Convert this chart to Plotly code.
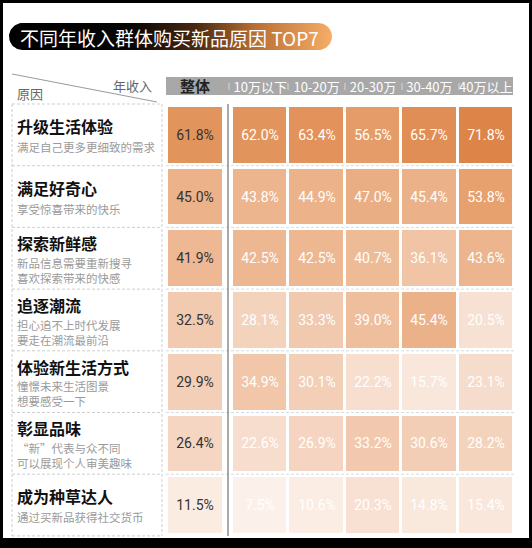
import numpy as np
import plotly.graph_objects as go

W, H = 532, 548

title = "不同年收入群体购买新品原因 TOP7"
reasons = ["升级生活体验", "满足好奇心", "探索新鲜感", "追逐潮流",
           "体验新生活方式", "彰显品味", "成为种草达人"]
descs = [
    ["满足自己更多更细致的需求"],
    ["享受惊喜带来的快乐"],
    ["新品信息需要重新搜寻", "喜欢探索带来的快感"],
    ["担心追不上时代发展", "要走在潮流最前沿"],
    ["憧憬未来生活图景", "想要感受一下"],
    ["“新”代表与众不同", "可以展现个人审美趣味"],
    ["通过买新品获得社交货币"],
]
overall_label = "整体"
income_groups = ["10万以下", "10-20万", "20-30万", "30-40万", "40万以上"]
overall = [61.8, 45.0, 41.9, 32.5, 29.9, 26.4, 11.5]
under_10w = [62.0, 43.8, 42.5, 28.1, 34.9, 22.6, 7.5]
w10_20 = [63.4, 44.9, 42.5, 33.3, 30.1, 26.9, 10.6]
w20_30 = [56.5, 47.0, 40.7, 39.0, 22.2, 33.2, 20.3]
w30_40 = [65.7, 45.4, 36.1, 45.4, 15.7, 30.6, 14.8]
over_40w = [71.8, 53.8, 43.6, 20.5, 23.1, 28.2, 15.4]

group_cols = [under_10w, w10_20, w20_30, w30_40, over_40w]
z_groups = [[col[i] for col in group_cols] for i in range(len(reasons))]
z_overall = [[v] for v in overall]
rows = list(range(len(reasons)))

cscale = [[0.0, "#fdf4ee"], [0.25, "#f7dfd0"], [0.5, "#efbf9e"],
          [0.75, "#e69e6a"], [1.0, "#dd8549"]]
ZMIN, ZMAX = 5, 72


def px(x):
    return x / W


def py(y):
    return 1 - y / H


FONT = "Noto Sans CJK SC, Noto Sans, sans-serif"
NUMFONT = "Roboto, DejaVu Sans, sans-serif"

fig = go.Figure()

fig.add_trace(go.Heatmap(
    z=z_overall, x=[overall_label], y=rows, xaxis="x", yaxis="y",
    colorscale=cscale, zmin=ZMIN, zmax=ZMAX, showscale=False, ygap=6,
    texttemplate="%{z:.1f}%", textfont=dict(color="#333333", size=14, family=NUMFONT),
    hoverinfo="skip"))

fig.add_trace(go.Heatmap(
    z=z_groups, x=income_groups, y=rows, xaxis="x2", yaxis="y",
    colorscale=cscale, zmin=ZMIN, zmax=ZMAX, showscale=False, xgap=3, ygap=6,
    texttemplate="%{z:.1f}%", textfont=dict(color="#ffffff", size=14, family=NUMFONT),
    hoverinfo="skip"))

# title pill (decoration) with gradient fill on a pixel-space axis
x0p, x1p, y0p, y1p = 9, 332, 23, 50
r = (y1p - y0p) / 2
t1 = np.linspace(-np.pi / 2, np.pi / 2, 30)
t2 = np.linspace(np.pi / 2, 3 * np.pi / 2, 30)
cy = (y0p + y1p) / 2
xs = list(x1p - r + r * np.cos(t1)) + list(x0p + r + r * np.cos(t2))
ys = list(cy + r * np.sin(t1)) + list(cy + r * np.sin(t2))
xs.append(xs[0]); ys.append(ys[0])
fig.add_trace(go.Scatter(
    x=xs, y=ys, xaxis="x3", yaxis="y3", mode="lines", line=dict(width=0),
    fill="toself",
    fillgradient=dict(type="horizontal",
                      colorscale=[[0, "#000000"], [0.38, "#080503"], [0.58, "#4a2810"],
                                  [0.76, "#b86e32"], [1, "#f6ad68"]]),
    hoverinfo="skip", showlegend=False))

shapes = []
# black frame / white card
shapes.append(dict(type="rect", xref="paper", yref="paper", x0=px(3), x1=px(529),
                   y0=py(538), y1=py(3), fillcolor="white", line=dict(width=0), layer="below"))
# header gray bar
shapes.append(dict(type="rect", xref="paper", yref="paper", x0=px(166), x1=px(513),
                   y0=py(95), y1=py(77), fillcolor="#a8a8a8", line=dict(width=0), layer="below"))
for sx in [229, 288, 345, 402, 459]:
    shapes.append(dict(type="line", xref="paper", yref="paper", x0=px(sx), x1=px(sx),
                       y0=py(90), y1=py(83), line=dict(color="#d8d8d8", width=1)))
# diagonal
shapes.append(dict(type="line", xref="paper", yref="paper", x0=px(12), x1=px(157),
                   y0=py(74), y1=py(102), line=dict(color="#9a9a9a", width=1)))
# dashed row separators
DASH = "3px,2px"
row_lines = [104 + 61.7 * k for k in range(8)]
for yy in row_lines:
    shapes.append(dict(type="line", xref="paper", yref="paper", x0=px(12), x1=px(162),
                       y0=py(yy), y1=py(yy), line=dict(color="#cfcfcf", width=1, dash=DASH)))
    if 0 < yy - 104 < 430:
        shapes.append(dict(type="line", xref="paper", yref="paper", x0=px(166), x1=px(514),
                           y0=py(yy), y1=py(yy), line=dict(color="#d3dde3", width=1, dash=DASH)))
for xx in [12, 162]:
    shapes.append(dict(type="line", xref="paper", yref="paper", x0=px(xx), x1=px(xx),
                       y0=py(104), y1=py(536), line=dict(color="#cfcfcf", width=1, dash=DASH)))
# vertical separator
shapes.append(dict(type="line", xref="paper", yref="paper", x0=px(228), x1=px(228),
                   y0=py(104), y1=py(536), line=dict(color="#555555", width=1)))

ann = []
ann.append(dict(text=title, xref="paper", yref="paper", x=px(18), y=py(37),
                xanchor="left", yanchor="middle", showarrow=False,
                font=dict(family=FONT, size=19, color="white")))
ann.append(dict(text="年收入", xref="paper", yref="paper", x=px(132), y=py(85),
                xanchor="center", yanchor="middle", showarrow=False,
                font=dict(family=FONT, size=13, color="#666666")))
ann.append(dict(text="原因", xref="paper", yref="paper", x=px(15), y=py(93),
                xanchor="left", yanchor="middle", showarrow=False,
                font=dict(family=FONT, size=13, color="#666666")))
for i, (rname, d) in enumerate(zip(reasons, descs)):
    if len(d) == 1:
        offs_t, offs_d = 9, -12
    else:
        offs_t, offs_d = 15, -12
    ann.append(dict(text=f"<b>{rname}</b>", xref="paper", yref="y", x=px(15), y=i,
                    yshift=offs_t, xanchor="left", yanchor="middle", showarrow=False,
                    font=dict(family=FONT, size=16, color="#111111")))
    ann.append(dict(text="<br>".join(d), xref="paper", yref="y", x=px(15), y=i,
                    yshift=offs_d, xanchor="left", yanchor="middle" if len(d) == 1 else "middle",
                    align="left", showarrow=False,
                    font=dict(family=FONT, size=11.5, color="#9a9a9a")))

ydom = [py(536), py(104)]
fig.update_layout(
    width=W, height=H, margin=dict(l=0, r=0, t=0, b=0),
    paper_bgcolor="black", plot_bgcolor="rgba(0,0,0,0)",
    showlegend=False,
    xaxis=dict(domain=[px(168), px(222)], range=[-0.5, 0.5], side="top", anchor="y",
               showgrid=False, zeroline=False, showline=False, ticks="",
               ticklabelstandoff=8,
               tickfont=dict(family=FONT, size=15, color="#222222", weight="bold")),
    xaxis2=dict(domain=[px(232), px(514)], range=[-0.5, 4.5], side="top", anchor="y",
                showgrid=False, zeroline=False, showline=False, ticks="",
                ticklabelstandoff=8,
                tickfont=dict(family=FONT, size=13, color="#ffffff")),
    yaxis=dict(domain=ydom, range=[6.5, -0.5], visible=False),
    xaxis3=dict(domain=[0, 1], range=[0, W], visible=False, anchor="y3"),
    yaxis3=dict(domain=[0, 1], range=[H, 0], visible=False, anchor="x3"),
    shapes=shapes, annotations=ann,
)

fig.write_html("out.html")
